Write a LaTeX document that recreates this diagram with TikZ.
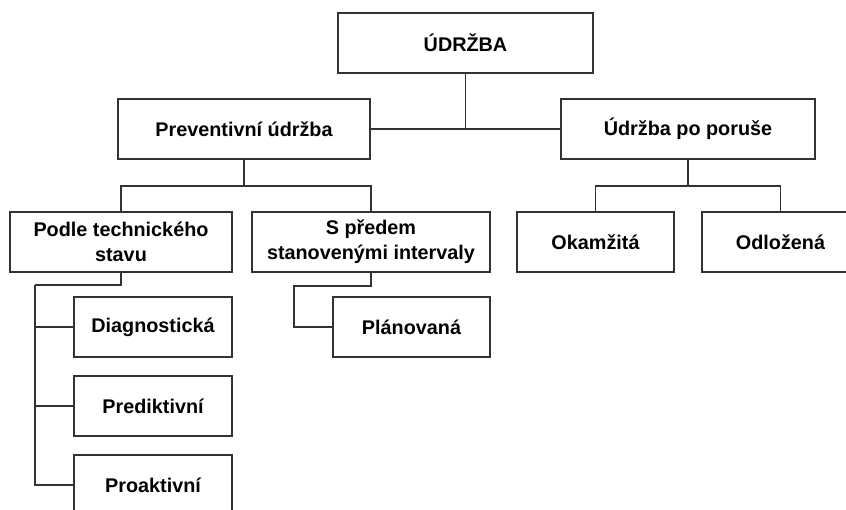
\documentclass[tikz,border=0pt]{standalone}
\usepackage{fontspec}
\setmainfont{Liberation Sans}
\begin{document}
\begin{tikzpicture}[x=1pt,y=-1pt,
  box/.style={draw=linec,line width=1.4pt,fill=white,inner sep=0pt,
    minimum height=60pt,align=center,font=\fontsize{19.8}{25}\selectfont\bfseries,text=black},
  conn/.style={draw=linec,line width=1.4pt}]
\definecolor{linec}{HTML}{333333}
\useasboundingbox (0,0) rectangle (846,509);
\clip (0,0) rectangle (846,509);
\fill[white] (0,0) rectangle (846,509);
% nodes
\node[box,minimum width=255pt] (top) at (465.5,43) {ÚDRŽBA};
\node[box,minimum width=252pt] (prev) at (244,129) {Preventivní údržba};
\node[box,minimum width=254pt] (post) at (688,129) {Údržba po poruše};
\node[box,minimum width=222pt] (podle) at (121,242) {Podle technického\\stavu};
\node[box,minimum width=238pt] (spred) at (371,242) {S předem\\stanovenými intervaly};
\node[box,minimum width=157pt] (okam) at (595.5,242) {Okamžitá};
\node[box,minimum width=157pt] (odl) at (780.5,242) {Odložená};
\node[box,minimum width=158pt] (diag) at (153,327) {Diagnostická};
\node[box,minimum width=158pt] (pred) at (153,406) {Prediktivní};
\node[box,minimum width=158pt] (proa) at (153,485) {Proaktivní};
\node[box,minimum width=157pt] (plan) at (411.5,327) {Plánovaná};
% junctions
\coordinate (j1) at (244,186);
\coordinate (j2) at (688,186);
\coordinate (j3) at (35,285);
\coordinate (j4) at (294,286);
% connectors
\draw[conn] (top.south) -- (top.south |- prev.east);
\draw[conn] (prev.east) -- (post.west);
\draw[conn] (prev.south) -- (j1);
\draw[conn] (podle.north) |- (j1) -| (spred.north);
\draw[conn] (post.south) -- (j2);
\draw[conn] (okam.north) |- (j2) -| (odl.north);
\draw[conn] (podle.south) |- (j3);
\draw[conn] (j3) |- (diag.west);
\draw[conn] (j3) |- (pred.west);
\draw[conn] (j3) |- (proa.west);
\draw[conn] (spred.south) |- (j4) |- (plan.west);
\end{tikzpicture}
\end{document}
